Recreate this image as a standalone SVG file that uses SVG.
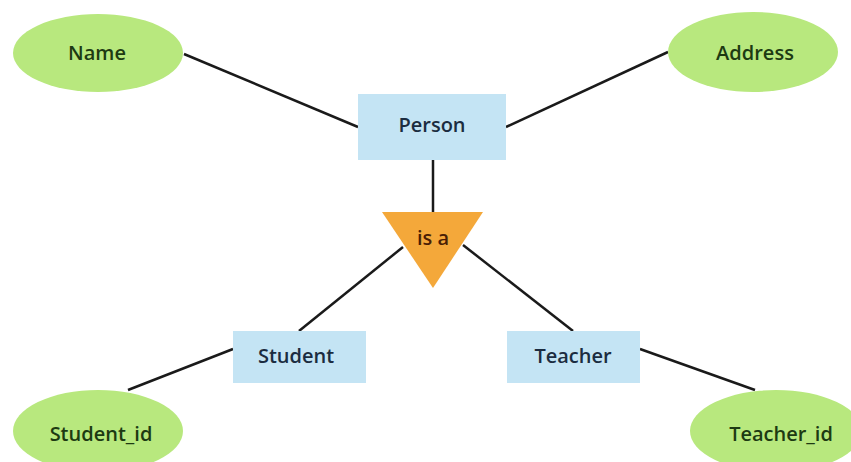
<svg xmlns="http://www.w3.org/2000/svg" width="851" height="462" viewBox="0 0 851 462">
<style>
.attr{fill:#b8e87e;}
.ent{fill:#c4e4f4;}
.isa{fill:#f4a83a;}
.lbl{font-family:"Open Sans","Noto Sans",sans-serif;font-size:20px;font-weight:600;text-anchor:middle;dominant-baseline:central;}
.at{fill:#1d3a12;}
.et{fill:#1b2c40;}
.it{fill:#4a1e05;}
.conn line{stroke:#1a1a1a;stroke-width:2.5;}
</style>
<rect width="851" height="462" fill="#ffffff"/>
<g class="conn">
<line x1="184" y1="54" x2="358" y2="127"/>
<line x1="668" y1="52" x2="506" y2="127"/>
<line x1="433" y1="160" x2="433" y2="212"/>
<line x1="403" y1="247" x2="299" y2="331"/>
<line x1="463" y1="245" x2="573" y2="331"/>
<line x1="233" y1="349" x2="128" y2="390"/>
<line x1="640" y1="349" x2="755" y2="390"/>
</g>
<g id="name"><ellipse class="attr" cx="98" cy="53" rx="85" ry="39"/><text class="lbl at" x="97" y="52">Name</text></g>
<g id="address"><ellipse class="attr" cx="753" cy="52" rx="85" ry="40"/><text class="lbl at" x="755" y="52">Address</text></g>
<g id="person"><rect class="ent" x="358" y="94" width="148" height="66"/><text class="lbl et" x="432" y="124">Person</text></g>
<g id="isa"><polygon class="isa" points="382,212 483,212 433,288"/><text class="lbl it" x="433" y="237">is a</text></g>
<g id="student"><rect class="ent" x="233" y="331" width="133" height="52"/><text class="lbl et" x="296" y="355">Student</text></g>
<g id="teacher"><rect class="ent" x="507" y="331" width="133" height="52"/><text class="lbl et" x="573" y="355">Teacher</text></g>
<g id="student_id"><ellipse class="attr" cx="98" cy="431" rx="85" ry="41"/><text class="lbl at" x="101" y="433">Student_id</text></g>
<g id="teacher_id"><ellipse class="attr" cx="776" cy="431" rx="86" ry="41"/><text class="lbl at" x="781" y="433">Teacher_id</text></g>
</svg>
